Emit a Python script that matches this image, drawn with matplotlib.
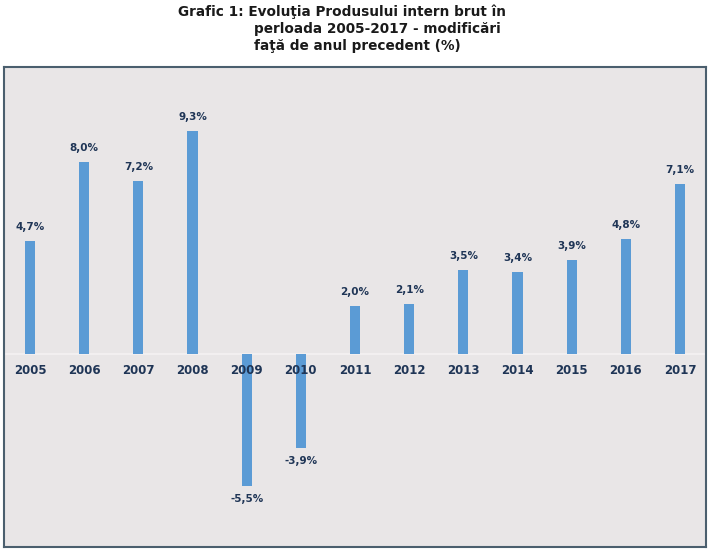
import matplotlib
matplotlib.use("Agg")
import matplotlib.pyplot as plt

years = ["2005", "2006", "2007", "2008", "2009", "2010", "2011", "2012", "2013", "2014", "2015", "2016", "2017"]
values = [4.7, 8.0, 7.2, 9.3, -5.5, -3.9, 2.0, 2.1, 3.5, 3.4, 3.9, 4.8, 7.1]
labels = ["4,7%", "8,0%", "7,2%", "9,3%", "-5,5%", "-3,9%", "2,0%", "2,1%", "3,5%", "3,4%", "3,9%", "4,8%", "7,1%"]

title_lines = ["Grafic 1: Evoluţia Produsului intern brut în",
               "perloada 2005-2017 - modificări",
               "faţă de anul precedent (%)"]

W, H = 711, 552
fig = plt.figure(figsize=(W / 100, H / 100), dpi=100)
fig.patch.set_facecolor("white")

ax = fig.add_axes([4 / W, 1 - 547 / H, (706 - 4) / W, (547 - 67) / H])
ax.set_facecolor("#e9e6e7")
for s in ax.spines.values():
    s.set_color("#4b5f6e")
    s.set_linewidth(1.5)

x = list(range(len(years)))
ax.bar(x, values, width=0.19, color="#5b9bd5", zorder=3)
ax.axhline(0, color="#f4f2f3", lw=1.2, zorder=2)
ax.set_xlim(-0.48, 12.48)
ax.set_ylim(-8.04, 11.96)
ax.set_xticks([])
ax.set_yticks([])

navy = "#1f3556"
for xi, v, lab in zip(x, values, labels):
    if v >= 0:
        ax.annotate(lab, (xi, v), xytext=(0, 6.5), textcoords="offset points",
                    ha="center", va="bottom", fontsize=7.5, fontweight="bold", color=navy)
    else:
        ax.annotate(lab, (xi, v), xytext=(0, -6), textcoords="offset points",
                    ha="center", va="top", fontsize=7.5, fontweight="bold", color=navy)
    ax.annotate(years[xi], (xi, 0), xytext=(0, -7.5), textcoords="offset points",
                ha="center", va="top", fontsize=8.5, fontweight="bold", color=navy)

tc = "#1a1a1a"
fs = 9.8
fig.text(178 / W, 1 - 12 / H, title_lines[0], ha="left", va="center", fontsize=fs, fontweight="bold", color=tc)
fig.text(254 / W, 1 - 29 / H, title_lines[1], ha="left", va="center", fontsize=fs, fontweight="bold", color=tc)
fig.text(254 / W, 1 - 46 / H, title_lines[2], ha="left", va="center", fontsize=fs, fontweight="bold", color=tc)

fig.savefig("out.png", dpi=100, facecolor="white")
